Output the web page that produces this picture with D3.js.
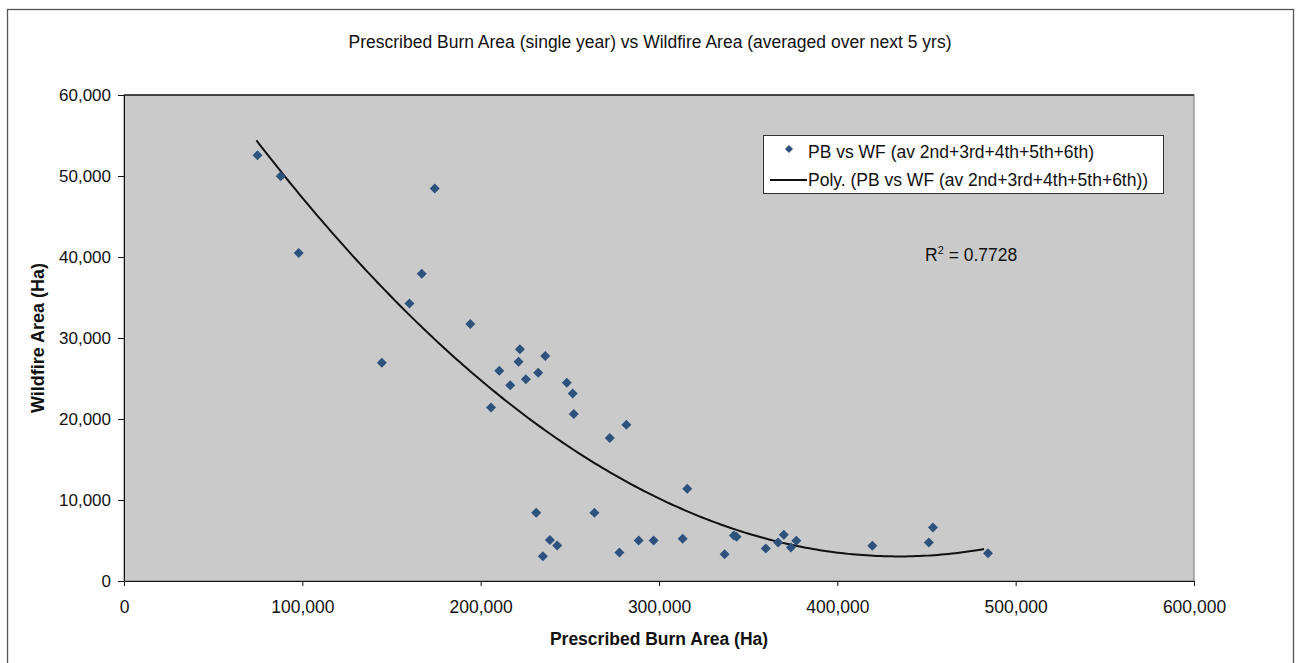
<!DOCTYPE html>
<html>
<head>
<meta charset="utf-8">
<script src="https://cdn.jsdelivr.net/npm/d3@7"></script>
<style>
  body { margin: 0; background: #fff; }
  svg text { font-family: "Liberation Sans", Arial, sans-serif; fill: #111; }
</style>
</head>
<body>
<div class="vis"></div>
<script>
// prescribed burn area (Ha), single year
const burnArea = [
  74850, 87870, 97970, 144570, 160070, 166970, 174250, 194200,
  205790, 210440, 216600, 221250, 222000, 225360, 232270, 236200,
  248300, 251600, 252200, 272400, 281700, 315850, 231150, 263800,
  238800, 242900, 234900, 277800, 288600, 297000, 313300, 336800,
  342000, 343500, 359900, 366800, 370000, 374000, 377000, 419600,
  451300, 453600, 484500
]
// wildfire area (Ha), averaged over next 5 yrs
const wildfireArea = [
  52560, 49960, 40500, 26940, 34260, 37930, 48470, 31730,
  21410, 25950, 24170, 27060, 28600, 24920, 25700, 27770,
  24460, 23140, 20620, 17640, 19300, 11400, 8430, 8430,
  5050, 4380, 3060, 3510, 5000, 5000, 5210, 3300,
  5620, 5450, 4010, 4750, 5700, 4130, 4960, 4340,
  4750, 6610, 3430
]
const xTicks = [0, 100000, 200000, 300000, 400000, 500000, 600000]
const yTicks = [0, 10000, 20000, 30000, 40000, 50000, 60000]
const seriesName = 'PB vs WF (av 2nd+3rd+4th+5th+6th)'
const trendName = 'Poly. (PB vs WF (av 2nd+3rd+4th+5th+6th))'
const rSquared = '0.7728'

const w = 1297
const h = 663
const plot = { left: 124, right: 1194, top: 95, bottom: 581 }

const dataset = burnArea.map((d, i) => [d, wildfireArea[i]])

// 二次多项式最小二乘拟合
function polyFit2(data) {
  let s = [0, 0, 0, 0, 0], t = [0, 0, 0]
  const k = 1e5
  data.forEach(([x0, y]) => {
    const x = x0 / k
    for (let p = 0; p < 5; p++) s[p] += Math.pow(x, p)
    for (let p = 0; p < 3; p++) t[p] += y * Math.pow(x, p)
  })
  const m = [[s[0], s[1], s[2], t[0]], [s[1], s[2], s[3], t[1]], [s[2], s[3], s[4], t[2]]]
  for (let i = 0; i < 3; i++) {
    for (let j = i + 1; j < 3; j++) {
      const f = m[j][i] / m[i][i]
      for (let c = i; c < 4; c++) m[j][c] -= f * m[i][c]
    }
  }
  const r = [0, 0, 0]
  for (let i = 2; i >= 0; i--) {
    let v = m[i][3]
    for (let c = i + 1; c < 3; c++) v -= m[i][c] * r[c]
    r[i] = v / m[i][i]
  }
  return (x0) => { const x = x0 / k; return r[0] + r[1] * x + r[2] * x * x }
}
const fit = polyFit2(dataset)

const svg = d3.select('.vis').append('svg')
  .attr('width', w)
  .attr('height', h)

// 外框
svg.append('rect')
  .attr('x', 7.5).attr('y', 9.5)
  .attr('width', 1286).attr('height', 670)
  .attr('fill', '#fff')
  .attr('stroke', '#555')
  .attr('stroke-width', 1.3)

const xScale = d3.scaleLinear().domain([0, 600000]).range([plot.left, plot.right])
const yScale = d3.scaleLinear().domain([0, 60000]).range([plot.bottom, plot.top])

// 绘图区
svg.append('rect')
  .attr('x', plot.left).attr('y', plot.top)
  .attr('width', plot.right - plot.left).attr('height', plot.bottom - plot.top)
  .attr('fill', '#cacaca')
  .attr('stroke', '#777')
  .attr('stroke-width', 1)
svg.append('line')
  .attr('x1', plot.left).attr('x2', plot.right)
  .attr('y1', plot.top).attr('y2', plot.top)
  .attr('stroke', '#222').attr('stroke-width', 1.5)

const fmt = d3.format(',')

const xAxis = d3.axisBottom(xScale).tickValues(xTicks).tickFormat(fmt).tickSize(5).tickSizeOuter(0)
const yAxis = d3.axisLeft(yScale).tickValues(yTicks).tickFormat(fmt).tickSize(6).tickSizeOuter(0)

svg.append('g')
  .attr('class', 'x-axis')
  .attr('transform', 'translate(0,' + plot.bottom + ')')
  .call(xAxis)
svg.select('.x-axis').selectAll('text')
  .attr('font-size', 17.5)
  .attr('dy', null)
  .attr('y', 32)
svg.append('g')
  .attr('class', 'y-axis')
  .attr('transform', 'translate(' + plot.left + ',0)')
  .call(yAxis)
svg.select('.y-axis').selectAll('text')
  .attr('font-size', 17)
  .attr('x', -13)
svg.selectAll('.domain, .tick line').attr('stroke', '#111')
svg.selectAll('.tick text').style('font-family', '"Liberation Sans", Arial, sans-serif').attr('fill', '#111')

// 趋势线
const xs = d3.range(74270, 484001, 2000)
svg.append('path')
  .datum(xs)
  .attr('fill', 'none')
  .attr('stroke', '#111')
  .attr('stroke-width', 2)
  .attr('d', d3.line().x(d => xScale(d)).y(d => yScale(fit(d))))

// 散点（菱形）
svg.selectAll('.pt')
  .data(dataset)
  .enter().append('path')
  .attr('class', 'pt')
  .attr('transform', d => 'translate(' + xScale(d[0]) + ',' + yScale(d[1]) + ')')
  .attr('d', 'M0,-5L5,0L0,5L-5,0Z')
  .attr('fill', '#2c527d')

// 标题
svg.append('text')
  .attr('x', 650).attr('y', 48)
  .attr('text-anchor', 'middle')
  .attr('font-size', 17.5)
  .text('Prescribed Burn Area (single year) vs Wildfire Area (averaged over next 5 yrs)')

svg.append('text')
  .attr('x', 659).attr('y', 645)
  .attr('text-anchor', 'middle')
  .attr('font-size', 17.5)
  .attr('font-weight', 'bold')
  .text('Prescribed Burn Area (Ha)')

svg.append('text')
  .attr('transform', 'translate(44,338) rotate(-90)')
  .attr('text-anchor', 'middle')
  .attr('font-size', 18)
  .attr('font-weight', 'bold')
  .text('Wildfire Area (Ha)')

// 图例
const legend = svg.append('g')
legend.append('rect')
  .attr('x', 763.5).attr('y', 135.5)
  .attr('width', 400).attr('height', 58)
  .attr('fill', '#fff')
  .attr('stroke', '#333')
legend.append('path')
  .attr('transform', 'translate(789,149)')
  .attr('d', 'M0,-4L4,0L0,4L-4,0Z')
  .attr('fill', '#2c527d')
legend.append('text')
  .attr('x', 808).attr('y', 158)
  .attr('font-size', 17.5)
  .text(seriesName)
legend.append('line')
  .attr('x1', 770).attr('x2', 807)
  .attr('y1', 180).attr('y2', 180)
  .attr('stroke', '#111').attr('stroke-width', 2)
legend.append('text')
  .attr('x', 808).attr('y', 186)
  .attr('font-size', 17.5)
  .text(trendName)

// R²
const r2 = svg.append('text')
  .attr('x', 925).attr('y', 261)
  .attr('font-size', 17.5)
r2.append('tspan').text('R')
r2.append('tspan').attr('dy', -7).attr('font-size', 11).text('2')
r2.append('tspan').attr('dy', 7).text(' = ' + rSquared)
</script>
</body>
</html>
